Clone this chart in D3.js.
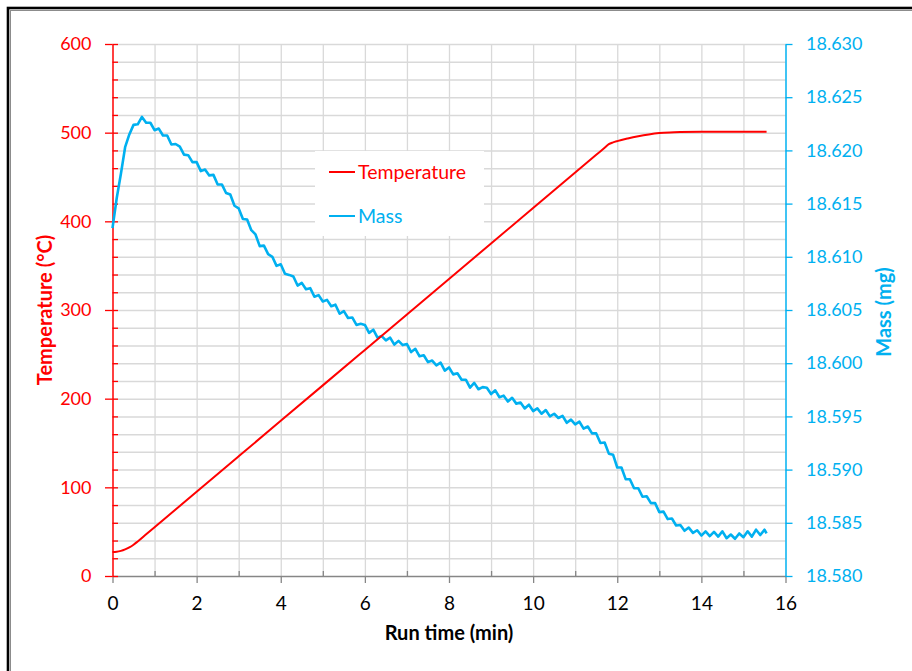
<!DOCTYPE html>
<html>
<head>
<meta charset="utf-8">
<script src="https://cdn.jsdelivr.net/npm/d3@7"></script>
<style>
  body { margin: 0; background: #ffffff; }
  svg { display: block; font-family: Lato, "Open Sans", "DejaVu Sans", sans-serif; }
</style>
</head>
<body>
<svg id="chart" width="912" height="671"></svg>
<script>
// ---- Temperature programme (°C vs min) ----
const tempTime = [0, 0.1, 0.2, 0.3, 0.4, 0.5, 0.6, 0.8, 1, 2, 3, 4, 5, 6, 7, 8, 9, 10, 11, 11.5, 11.7, 11.8, 11.9, 12, 12.25, 12.5, 12.75, 13, 13.25, 13.5, 14, 15.55];
const tempC    = [27, 27.3, 28.3, 30, 32.3, 35.3, 39, 47, 55, 95, 135, 175, 215, 255, 295, 335, 375, 415, 455, 475, 483, 487, 489, 490.5, 493.5, 496, 498, 499.5, 500.3, 500.7, 501, 501];

// ---- Sample mass (mg vs min) ----
const massTime = [
  0.0, 0.1, 0.2, 0.3, 0.4, 0.5, 0.6, 0.7, 0.8, 0.9,
  1.0, 1.1, 1.2, 1.3, 1.4, 1.5, 1.6, 1.7, 1.8, 1.9,
  2.0, 2.1, 2.2, 2.3, 2.4, 2.5, 2.6, 2.7, 2.8, 2.9,
  3.0, 3.1, 3.2, 3.3, 3.4, 3.5, 3.6, 3.7, 3.8, 3.9,
  4.0, 4.1, 4.2, 4.3, 4.4, 4.5, 4.6, 4.7, 4.8, 4.9,
  5.0, 5.1, 5.2, 5.3, 5.4, 5.5, 5.6, 5.7, 5.8, 5.9,
  6.0, 6.1, 6.2, 6.3, 6.4, 6.5, 6.6, 6.7, 6.8, 6.9,
  7.0, 7.1, 7.2, 7.3, 7.4, 7.5, 7.6, 7.7, 7.8, 7.9,
  8.0, 8.1, 8.2, 8.3, 8.4, 8.5, 8.6, 8.7, 8.8, 8.9,
  9.0, 9.1, 9.2, 9.3, 9.4, 9.5, 9.6, 9.7, 9.8, 9.9,
  10.0, 10.1, 10.2, 10.3, 10.4, 10.5, 10.6, 10.7, 10.8, 10.9,
  11.0, 11.1, 11.2, 11.3, 11.4, 11.5, 11.6, 11.7, 11.8, 11.9,
  12.0, 12.1, 12.2, 12.3, 12.4, 12.5, 12.6, 12.7, 12.8, 12.9,
  13.0, 13.1, 13.2, 13.3, 13.4, 13.5, 13.6, 13.7, 13.8, 13.9,
  14.0, 14.1, 14.2, 14.3, 14.4, 14.5, 14.6, 14.7, 14.8, 14.9,
  15.0, 15.1, 15.2, 15.3, 15.4, 15.5, 15.55
];
const massMg = [
  18.61270, 18.61550, 18.61780, 18.62030, 18.62150, 18.62240, 18.62245, 18.62315, 18.62260, 18.62260,
  18.62190, 18.62205, 18.62140, 18.62140, 18.62055, 18.62060, 18.62035, 18.61960, 18.61955, 18.61890,
  18.61890, 18.61805, 18.61820, 18.61765, 18.61770, 18.61680, 18.61680, 18.61600, 18.61585, 18.61480,
  18.61455, 18.61355, 18.61350, 18.61250, 18.61210, 18.61100, 18.61105, 18.61025, 18.61000, 18.60915,
  18.60930, 18.60840, 18.60830, 18.60815, 18.60730, 18.60755, 18.60695, 18.60705, 18.60625, 18.60640,
  18.60580, 18.60595, 18.60535, 18.60550, 18.60465, 18.60490, 18.60425, 18.60430, 18.60360, 18.60370,
  18.60360, 18.60285, 18.60315, 18.60240, 18.60255, 18.60215, 18.60240, 18.60175, 18.60210, 18.60170,
  18.60180, 18.60105, 18.60135, 18.60065, 18.60075, 18.60010, 18.60025, 18.59980, 18.60005, 18.59930,
  18.59960, 18.59895, 18.59905, 18.59845, 18.59845, 18.59770, 18.59815, 18.59755, 18.59775, 18.59770,
  18.59710, 18.59745, 18.59680, 18.59695, 18.59640, 18.59675, 18.59620, 18.59630, 18.59575, 18.59610,
  18.59550, 18.59575, 18.59525, 18.59560, 18.59500, 18.59525, 18.59485, 18.59505, 18.59440, 18.59470,
  18.59425, 18.59450, 18.59385, 18.59405, 18.59340, 18.59340, 18.59250, 18.59255, 18.59150, 18.59140,
  18.59020, 18.59020, 18.58910, 18.58910, 18.58825, 18.58825, 18.58745, 18.58750, 18.58685, 18.58685,
  18.58600, 18.58605, 18.58535, 18.58540, 18.58475, 18.58480, 18.58425, 18.58455, 18.58405, 18.58430,
  18.58380, 18.58420, 18.58375, 18.58415, 18.58370, 18.58420, 18.58355, 18.58390, 18.58350, 18.58400,
  18.58365, 18.58420, 18.58370, 18.58435, 18.58385, 18.58435, 18.58400
];

// ---- Axis ticks and labels ----
const timeTicks  = [0, 2, 4, 6, 8, 10, 12, 14, 16];
const tempTicks  = [0, 100, 200, 300, 400, 500, 600];
const massTicks  = [18.580, 18.585, 18.590, 18.595, 18.600, 18.605, 18.610, 18.615, 18.620, 18.625, 18.630];
const seriesNames = ["Temperature", "Mass"];
const axisTitles = { x: "Run time (min)", left: "Temperature (°C)", right: "Mass (mg)" };

const RED = "#ff0000";
const BLUE = "#00b0f0";
const GRID = "#d9d9d9";
const AXIS_GRAY = "#868686";

const svg = d3.select("#chart");

// Frame: thick black edge with a thin grey inner line
svg.append("rect").attr("x", 0).attr("y", 0).attr("width", 912).attr("height", 671).attr("fill", "#ffffff");
svg.append("rect").attr("x", 8).attr("y", 8).attr("width", 1000).attr("height", 1000)
  .attr("fill", "none").attr("stroke", "#000").attr("stroke-width", 2.6);
svg.append("rect").attr("x", 10.5).attr("y", 10.5).attr("width", 1000).attr("height", 1000)
  .attr("fill", "none").attr("stroke", "#8c8c8c").attr("stroke-width", 1);

const plotLeft = 112.5, plotRight = 785.5, plotTop = 44, plotBottom = 576;
const x = d3.scaleLinear().domain([0, 16]).range([plotLeft, plotRight]);
const yT = d3.scaleLinear().domain([0, 600]).range([plotBottom, plotTop]);
const yM = d3.scaleLinear().domain([18.580, 18.630]).range([plotBottom, plotTop]);

// Gridlines
const grid = svg.append("g");
grid.append("g")
  .attr("transform", `translate(${plotLeft},0)`)
  .call(d3.axisLeft(yT).tickValues(d3.range(20, 601, 20)).tickSize(-(plotRight - plotLeft)).tickFormat(""))
  .call(g => g.select(".domain").remove())
  .call(g => g.selectAll("line").attr("stroke", GRID).attr("stroke-width", 1.5));
grid.append("g")
  .attr("transform", `translate(0,${plotBottom})`)
  .call(d3.axisBottom(x).tickValues(d3.range(1, 16, 1)).tickSize(-(plotBottom - plotTop)).tickFormat(""))
  .call(g => g.select(".domain").remove())
  .call(g => g.selectAll("line").attr("stroke", GRID).attr("stroke-width", 1.3));

// Legend box (white panel over the grid)
const legend = svg.append("g");
legend.append("rect").attr("x", 315).attr("y", 151).attr("width", 169).attr("height", 85).attr("fill", "#ffffff");
const legendItems = [
  { name: seriesNames[0], color: RED, y: 172 },
  { name: seriesNames[1], color: BLUE, y: 216 }
];
legendItems.forEach(d => {
  legend.append("line").attr("x1", 329).attr("x2", 355).attr("y1", d.y).attr("y2", d.y)
    .attr("stroke", d.color).attr("stroke-width", 2);
  legend.append("text").attr("x", 358).attr("y", d.y).attr("dy", "0.36em")
    .attr("fill", d.color).attr("font-size", 19.5).text(d.name);
});

// X axis
svg.append("g").attr("transform", `translate(0,${plotBottom})`)
  .call(d3.axisBottom(x).tickValues(timeTicks).tickSize(7).tickSizeOuter(0).tickPadding(14))
  .call(g => g.select(".domain").attr("stroke", AXIS_GRAY).attr("stroke-width", 1.3))
  .call(g => g.selectAll(".tick line").attr("stroke", AXIS_GRAY).attr("stroke-width", 1.3))
  .call(g => g.selectAll(".tick text").attr("fill", "#000").attr("font-size", 19).attr("font-family", "Lato, sans-serif"));
svg.append("g").attr("transform", `translate(0,${plotBottom})`)
  .call(d3.axisTop(x).tickValues(d3.range(1, 16, 2)).tickSize(5).tickSizeOuter(0).tickFormat(""))
  .call(g => g.select(".domain").remove())
  .call(g => g.selectAll(".tick line").attr("stroke", AXIS_GRAY).attr("stroke-width", 1.3));

// Left (temperature) axis
svg.append("g").attr("transform", `translate(${plotLeft},0)`)
  .call(d3.axisRight(yT).tickValues(d3.range(0, 601, 20)).tickSize(5.5).tickSizeOuter(0).tickFormat(""))
  .call(g => g.select(".domain").remove())
  .call(g => g.selectAll(".tick line").attr("stroke", RED).attr("stroke-width", 1.3));
svg.append("g").attr("transform", `translate(${plotLeft},0)`)
  .call(d3.axisLeft(yT).tickValues(tempTicks).tickSize(7.5).tickSizeOuter(0).tickPadding(13.5))
  .call(g => g.select(".domain").attr("stroke", RED).attr("stroke-width", 1.5))
  .call(g => g.selectAll(".tick line").attr("stroke", RED).attr("stroke-width", 1.3))
  .call(g => g.selectAll(".tick text").attr("fill", RED).attr("font-size", 18).attr("font-family", "Lato, sans-serif"));

// Right (mass) axis
svg.append("g").attr("transform", `translate(${plotRight},0)`)
  .call(d3.axisRight(yM).tickValues(massTicks).tickSize(7).tickSizeOuter(0).tickPadding(13.5).tickFormat(d3.format(".3f")))
  .call(g => g.select(".domain").attr("stroke", BLUE).attr("stroke-width", 1.5))
  .call(g => g.selectAll(".tick line").attr("stroke", BLUE).attr("stroke-width", 1.3))
  .call(g => g.selectAll(".tick text").attr("fill", BLUE).attr("font-size", 18).attr("font-family", "Lato, sans-serif"));

// Series
const massData = massTime.map((t, i) => ({ t, v: massMg[i] }));
const tempData = tempTime.map((t, i) => ({ t, v: tempC[i] }));

svg.append("path").datum(massData)
  .attr("fill", "none").attr("stroke", BLUE).attr("stroke-width", 2.6).attr("stroke-linejoin", "round")
  .attr("d", d3.line().x(d => x(d.t)).y(d => yM(d.v)));

svg.append("path").datum(tempData)
  .attr("fill", "none").attr("stroke", RED).attr("stroke-width", 2).attr("stroke-linejoin", "round")
  .attr("d", d3.line().x(d => x(d.t)).y(d => yT(d.v)).curve(d3.curveMonotoneX));

// Axis titles
svg.append("text").attr("x", (plotLeft + plotRight) / 2).attr("y", 640).attr("text-anchor", "middle")
  .attr("font-weight", "bold").attr("font-size", 20).attr("fill", "#000").text(axisTitles.x);
svg.append("text").attr("transform", `translate(51.5,310) rotate(-90)`).attr("text-anchor", "middle")
  .attr("font-weight", "bold").attr("font-size", 20).attr("fill", RED).text(axisTitles.left);
svg.append("text").attr("transform", `translate(891,312) rotate(-90)`).attr("text-anchor", "middle")
  .attr("font-weight", "bold").attr("font-size", 20).attr("fill", BLUE).text(axisTitles.right);
</script>
</body>
</html>
